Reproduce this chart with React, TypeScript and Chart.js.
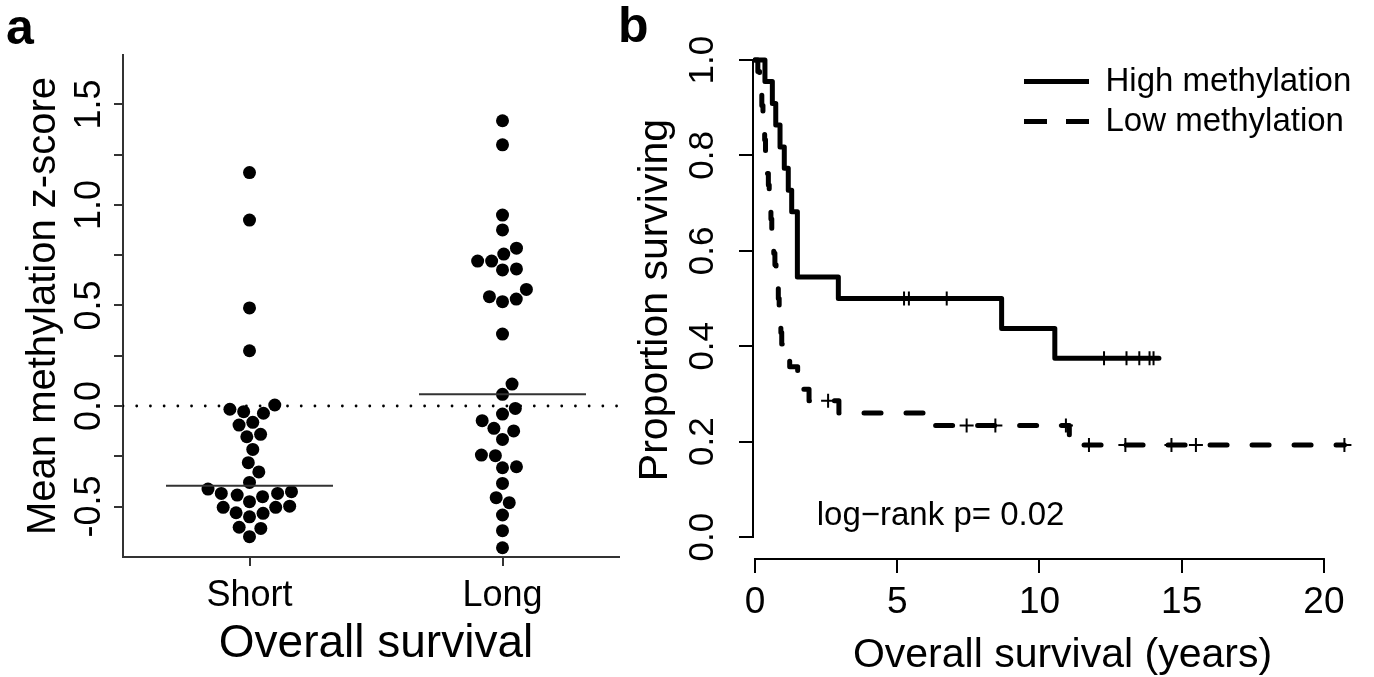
import React, { useEffect, useRef } from 'react';
import { Chart, registerables } from 'chart.js';

Chart.register(...registerables);

const FONT = '"Liberation Sans", Arial, Helvetica, sans-serif';
Chart.defaults.font.family = FONT;
Chart.defaults.color = '#000';

// ---------------- Panel a data ----------------
const groupNames = ['Short', 'Long'];
const groupPositions = [1, 2];
const shortValues = [
  1.161, 0.925, 0.488, 0.275, 0.005, -0.028, -0.036, -0.016, -0.081, -0.095, -0.141,
  -0.153, -0.216, -0.282, -0.328, -0.38, -0.413, -0.435, -0.443, -0.451, -0.435, -0.426,
  -0.476, -0.498, -0.504, -0.534, -0.551, -0.531, -0.504, -0.603, -0.609, -0.65,
];
const longValues = [
  1.419, 1.299, 0.95, 0.876, 0.785, 0.756, 0.721, 0.721, 0.682, 0.677, 0.58, 0.544, 0.519,
  0.532, 0.358, 0.109, 0.058, -0.012, -0.04, -0.073, -0.111, -0.124, -0.166, -0.244, -0.247,
  -0.302, -0.307, -0.385, -0.456, -0.481, -0.542, -0.62, -0.705,
];
const yTicksA = [-0.5, -0.25, 0, 0.25, 0.5, 0.75, 1, 1.25, 1.5];
const yLabelsA = ['-0.5', '', '0.0', '', '0.5', '', '1.0', '', '1.5'];
const referenceLineA = [0];
const xTitleA = 'Overall survival';
const yTitleA = 'Mean methylation z-score';

// ---------------- Panel b data ----------------
const seriesNames = ['High methylation', 'Low methylation'];
const highTimes = [0, 0.35, 0.61, 0.73, 0.88, 1.03, 1.17, 1.29, 1.49, 2.93, 8.67, 10.54, 14.2];
const highSurv = [1, 0.955, 0.909, 0.864, 0.818, 0.773, 0.727, 0.682, 0.545, 0.5, 0.4375, 0.375, 0.375];
const highCensorTimes = [5.24, 5.41, 6.74, 12.27, 13.06, 13.51, 13.87, 14.01];
const highCensorSurv = [0.5, 0.5, 0.5, 0.375, 0.375, 0.375, 0.375, 0.375];
const lowTimes = [
  0, 0.1, 0.16, 0.2, 0.24, 0.28, 0.31, 0.34, 0.37, 0.41, 0.44, 0.47, 0.5, 0.53, 0.56, 0.59,
  0.62, 0.66, 0.7, 0.74, 0.78, 0.82, 0.85, 0.88, 0.91, 0.94, 0.97, 1.22, 1.5, 1.58, 1.9, 2.95,
  6.25, 11.05, 20.72,
];
const lowSurv = [
  1, 0.976, 0.952, 0.929, 0.905, 0.881, 0.857, 0.833, 0.81, 0.786, 0.762, 0.738, 0.714, 0.69,
  0.667, 0.643, 0.619, 0.595, 0.571, 0.548, 0.524, 0.5, 0.476, 0.452, 0.429, 0.405, 0.381,
  0.357, 0.333, 0.31, 0.286, 0.26, 0.234, 0.193, 0.193,
];
const lowCensorTimes = [2.57, 7.44, 8.45, 10.93, 11.74, 13.02, 14.64, 15.5, 20.72];
const lowCensorSurv = [0.286, 0.234, 0.234, 0.234, 0.193, 0.193, 0.193, 0.193, 0.193];
const xTicksB = [0, 5, 10, 15, 20];
const xLabelsB = ['0', '5', '10', '15', '20'];
const yTicksB = [0, 0.2, 0.4, 0.6, 0.8, 1.0];
const yLabelsB = ['0.0', '0.2', '0.4', '0.6', '0.8', '1.0'];
const xTitleB = 'Overall survival (years)';
const yTitleB = 'Proportion surviving';
const pValueText = 'log\u2212rank p= 0.02';
const pValueAnchor = [2.17, 0.044];

// ---------------- layout constants ----------------
const H = 677;
const A_W = 640;
const B_LEFT = 620;
const B_W = 764;
const SWARM_SPACING = 14;
const MEDIAN_HALF = 0.33;

function median(arr: number[]) {
  const s = [...arr].sort((a, b) => a - b);
  const n = s.length;
  return n % 2 ? s[(n - 1) / 2] : (s[n / 2 - 1] + s[n / 2]) / 2;
}

// beeswarm "swarm" layout (ascending priority), in pixel space
function swarm(values: number[], toPx: (v: number) => number, spacing: number): number[] {
  const order = values.map((_, i) => i).sort((a, b) => values[a] - values[b]);
  const out: number[] = new Array(values.length).fill(0);
  const placed: { y: number; x: number }[] = [];
  for (const idx of order) {
    const yi = toPx(values[idx]) / spacing;
    const near = placed.filter((p) => Math.abs(p.y - yi) < 1);
    let best = 0;
    if (near.length) {
      const cands = [0];
      near.forEach((p) => cands.push(p.x + Math.sqrt(1 - (yi - p.y) ** 2)));
      near.forEach((p) => cands.push(p.x - Math.sqrt(1 - (yi - p.y) ** 2)));
      let bestAbs = Infinity;
      for (const c of cands) {
        const bad = near.some((p) => (yi - p.y) ** 2 + (c - p.x) ** 2 < 0.999);
        if (!bad && Math.abs(c) < bestAbs) {
          bestAbs = Math.abs(c);
          best = c;
        }
      }
    }
    placed.push({ y: yi, x: best });
    out[idx] = best * spacing;
  }
  return out;
}

function panelLetter(letter: string, x: number, y: number) {
  return {
    id: 'panelLetter' + letter,
    afterDraw(chart: any) {
      const ctx = chart.ctx;
      ctx.save();
      ctx.fillStyle = '#000';
      ctx.font = `bold 50px ${FONT}`;
      ctx.textAlign = 'left';
      ctx.textBaseline = 'alphabetic';
      ctx.fillText(letter, x, y);
      ctx.restore();
    },
  };
}

function PanelA() {
  const ref = useRef<HTMLCanvasElement>(null);
  useEffect(() => {
    const groups = [shortValues, longValues];
    const medianSets = groups.map((vals, g) => ({
      data: [
        { x: groupPositions[g] - MEDIAN_HALF, y: median(vals) },
        { x: groupPositions[g] + MEDIAN_HALF, y: median(vals) },
      ],
      showLine: true,
      pointRadius: 0,
      borderColor: '#333',
      borderWidth: 2,
      order: 1,
    }));
    const dotSets = groups.map((vals, g) => ({
      data: vals.map((v) => ({ x: groupPositions[g], y: v })),
      showLine: false,
      pointRadius: 6.5,
      pointBackgroundColor: '#000',
      pointBorderWidth: 0,
      order: 2,
    }));
    const zeroSet = {
      data: [
        { x: 0.5, y: referenceLineA[0] },
        { x: 2.5, y: referenceLineA[0] },
      ],
      showLine: true,
      pointRadius: 0,
      borderColor: '#000',
      borderWidth: 2.8,
      borderDash: [0.01, 13.7],
      borderCapStyle: 'round',
      order: 3,
    };
    const chart = new Chart(ref.current as HTMLCanvasElement, {
      type: 'scatter',
      data: { datasets: [...medianSets, ...dotSets, zeroSet] as any },
      options: {
        responsive: false,
        animation: false,
        devicePixelRatio: 1,
        events: [],
        layout: { padding: { left: 0, top: 55, right: A_W - 629, bottom: 0 } },
        plugins: { legend: { display: false }, tooltip: { enabled: false } },
        scales: {
          x: {
            type: 'linear',
            min: 0.5,
            max: 2.5,
            afterBuildTicks: (s: any) => {
              s.ticks = groupPositions.map((v) => ({ value: v }));
            },
            afterFit: (s: any) => {
              s.height = 120;
            },
            ticks: {
              autoSkip: false,
              maxRotation: 0,
              minRotation: 0,
              padding: 8,
              font: { size: 36 },
              color: '#000',
              callback: (_v: any, i: number) => groupNames[i],
            },
            grid: { drawOnChartArea: false, drawTicks: true, tickLength: 9, color: '#333', lineWidth: 2 },
            border: { display: true, color: '#333', width: 2 },
            title: {
              display: true,
              text: xTitleA,
              color: '#000',
              font: { size: 46, lineHeight: 1 },
              padding: { top: 0, bottom: 10 },
            },
          },
          y: {
            type: 'linear',
            min: -0.751,
            max: 1.746,
            afterBuildTicks: (s: any) => {
              s.ticks = yTicksA.map((v) => ({ value: v }));
            },
            afterFit: (s: any) => {
              s.width = 123;
            },
            ticks: {
              autoSkip: false,
              minRotation: 90,
              maxRotation: 90,
              crossAlign: 'center',
              padding: -7,
              font: { size: 36 },
              color: '#000',
              callback: (_v: any, i: number) => yLabelsA[i],
            },
            grid: { drawOnChartArea: false, drawTicks: true, tickLength: 9, color: '#333', lineWidth: 2 },
            border: { display: true, color: '#333', width: 2 },
            title: {
              display: true,
              text: yTitleA,
              color: '#000',
              font: { size: 40, lineHeight: 1 },
              padding: { top: 24, bottom: 0 },
            },
          },
        },
      } as any,
      plugins: [panelLetter('a', 6, 44)],
    });
    const xs: any = chart.scales.x;
    const ys: any = chart.scales.y;
    const pxPerUnit = xs.getPixelForValue(1) - xs.getPixelForValue(0);
    groups.forEach((vals, g) => {
      const offs = swarm(vals, (v) => ys.getPixelForValue(v), SWARM_SPACING);
      (chart.data.datasets[2 + g] as any).data = vals.map((v, i) => ({
        x: groupPositions[g] + offs[i] / pxPerUnit,
        y: v,
      }));
    });
    chart.update('none');
    return () => chart.destroy();
  }, []);
  return (
    <canvas
      ref={ref}
      width={A_W}
      height={H}
      style={{ position: 'absolute', left: 0, top: 0, width: A_W, height: H, background: '#fff' }}
    />
  );
}

function PanelB() {
  const ref = useRef<HTMLCanvasElement>(null);
  useEffect(() => {
    const axisLines = {
      id: 'rAxisLines',
      afterDatasetsDraw(chart: any) {
        const { ctx, chartArea } = chart;
        const x = chart.scales.x;
        const y = chart.scales.y;
        ctx.save();
        ctx.strokeStyle = '#000';
        ctx.lineWidth = 2;
        ctx.beginPath();
        ctx.moveTo(x.getPixelForValue(xTicksB[0]) - 1, chartArea.bottom);
        ctx.lineTo(x.getPixelForValue(xTicksB[xTicksB.length - 1]) + 1, chartArea.bottom);
        ctx.moveTo(chartArea.left, y.getPixelForValue(yTicksB[0]) + 1);
        ctx.lineTo(chartArea.left, y.getPixelForValue(yTicksB[yTicksB.length - 1]) - 1);
        ctx.stroke();
        ctx.font = `33px ${FONT}`;
        ctx.fillStyle = '#000';
        ctx.textAlign = 'left';
        ctx.textBaseline = 'middle';
        ctx.fillText(pValueText, x.getPixelForValue(pValueAnchor[0]), y.getPixelForValue(pValueAnchor[1]));
        ctx.restore();
      },
    };
    const legendPos = {
      id: 'legendPos',
      afterLayout(chart: any) {
        const lg = chart.legend;
        if (!lg) return;
        const w = lg.width;
        const h = lg.height;
        lg.left = 380;
        lg.top = 58;
        lg.right = lg.left + w;
        lg.bottom = lg.top + h;
      },
    };
    const chart = new Chart(ref.current as HTMLCanvasElement, {
      type: 'line',
      data: {
        datasets: [
          {
            label: seriesNames[0],
            data: highTimes.map((t, i) => ({ x: t, y: highSurv[i] })),
            borderColor: '#000',
            borderWidth: 5,
            stepped: 'before',
            pointRadius: 0,
            borderCapStyle: 'round',
            borderJoinStyle: 'round',
            fill: false,
            order: 2,
          },
          {
            label: seriesNames[1],
            data: lowTimes.map((t, i) => ({ x: t, y: lowSurv[i] })),
            borderColor: '#000',
            borderWidth: 5,
            borderDash: [17, 25],
            stepped: 'before',
            pointRadius: 0,
            borderCapStyle: 'round',
            borderJoinStyle: 'round',
            fill: false,
            order: 3,
          },
          {
            label: 'high censored',
            data: highCensorTimes.map((t, i) => ({ x: t, y: highCensorSurv[i] })),
            showLine: false,
            pointStyle: 'cross',
            pointRadius: 7,
            pointBorderWidth: 2,
            pointBorderColor: '#000',
            order: 0,
          },
          {
            label: 'low censored',
            data: lowCensorTimes.map((t, i) => ({ x: t, y: lowCensorSurv[i] })),
            showLine: false,
            pointStyle: 'cross',
            pointRadius: 7,
            pointBorderWidth: 2,
            pointBorderColor: '#000',
            order: 1,
          },
        ] as any,
      },
      options: {
        responsive: false,
        animation: false,
        devicePixelRatio: 1,
        events: [],
        layout: { padding: { left: 0, top: 41, right: B_W - (1372 - B_LEFT), bottom: 0 } },
        plugins: {
          tooltip: { enabled: false },
          legend: {
            display: true,
            position: 'chartArea',
            fullSize: false,
            align: 'start',
            labels: {
              usePointStyle: true,
              pointStyleWidth: 82,
              padding: 7,
              color: '#000',
              font: { size: 33 },
              generateLabels: () =>
                seriesNames.map((name, i) => ({
                  text: name,
                  datasetIndex: i,
                  strokeStyle: '#000',
                  fillStyle: '#000',
                  fontColor: '#000',
                  lineWidth: 5,
                  lineCap: 'butt',
                  lineDash: i === 0 ? [65, 17] : [23, 19],
                  lineDashOffset: i === 0 ? 65 : 25,
                  pointStyle: 'line',
                  rotation: 0,
                  hidden: false,
                })),
            },
          },
        },
        scales: {
          x: {
            type: 'linear',
            min: -0.07,
            max: 21.69,
            afterBuildTicks: (s: any) => {
              s.ticks = xTicksB.map((v) => ({ value: v }));
            },
            afterFit: (s: any) => {
              s.height = 118;
            },
            ticks: {
              autoSkip: false,
              maxRotation: 0,
              minRotation: 0,
              padding: 8,
              font: { size: 37 },
              color: '#000',
              callback: (_v: any, i: number) => xLabelsB[i],
            },
            grid: { drawOnChartArea: false, drawTicks: true, tickLength: 14, color: '#000', lineWidth: 2 },
            border: { display: false },
            title: {
              display: true,
              text: xTitleB,
              color: '#000',
              font: { size: 41, lineHeight: 1 },
              padding: { top: 0, bottom: 1 },
            },
          },
          y: {
            type: 'linear',
            min: -0.046,
            max: 1.04,
            afterBuildTicks: (s: any) => {
              s.ticks = yTicksB.map((v) => ({ value: v }));
            },
            afterFit: (s: any) => {
              s.width = 133;
            },
            ticks: {
              autoSkip: false,
              minRotation: 90,
              maxRotation: 90,
              crossAlign: 'center',
              padding: 11,
              font: { size: 35 },
              color: '#000',
              callback: (_v: any, i: number) => yLabelsB[i],
            },
            grid: { drawOnChartArea: false, drawTicks: true, tickLength: 14, color: '#000', lineWidth: 2 },
            border: { display: false },
            title: {
              display: true,
              text: yTitleB,
              color: '#000',
              font: { size: 41, lineHeight: 1 },
              padding: { top: 15, bottom: 0 },
            },
          },
        },
      } as any,
      plugins: [axisLines, legendPos, panelLetter('b', -2, 42)],
    });
    return () => chart.destroy();
  }, []);
  return (
    <canvas
      ref={ref}
      width={B_W}
      height={H}
      style={{ position: 'absolute', left: B_LEFT, top: 0, width: B_W, height: H, background: '#fff', zIndex: 1 }}
    />
  );
}

export default function App() {
  return (
    <div
      style={{
        position: 'absolute',
        left: 0,
        top: 0,
        width: 1374,
        height: H,
        background: '#fff',
        overflow: 'hidden',
      }}
    >
      <PanelA />
      <PanelB />
    </div>
  );
}
